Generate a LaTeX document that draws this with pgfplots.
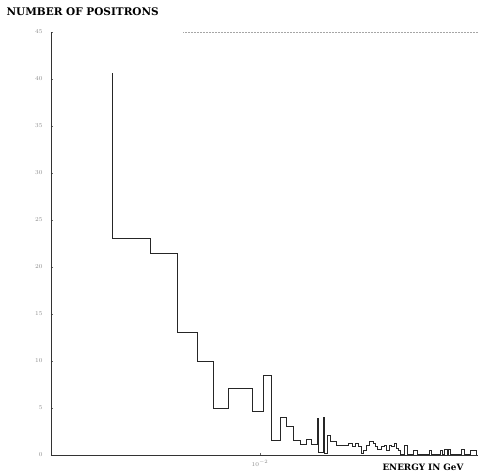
\documentclass[border=0pt]{standalone}
\usepackage{pgfplots}
\pgfplotsset{compat=1.18}
\usepackage{fontspec}
\setmainfont{DejaVu Serif}
\begin{document}
\begin{tikzpicture}
\path[use as bounding box] (0,0) rectangle (478pt,473pt);
\begin{axis}[
  at={(51pt,18pt)}, anchor=south west,
  scale only axis, width=427pt, height=423pt,
  xmin=0, xmax=427, ymin=0, ymax=45,
  axis lines*=left,
  axis line style={black!80, line width=0.6pt},
  ytick={0,5,...,45},
  yticklabel style={font=\fontsize{6}{7}\selectfont, text=black!45, xshift=-5pt},
  xtick={209}, xticklabels={$10^{-2}$},
  xticklabel style={font=\fontsize{6}{7}\selectfont, text=black!45, yshift=-2pt},
  tick style={black!60, line width=0.4pt},
  major tick length=2pt,
  tick align=inside,
  clip=false,
]
\draw[black!35, densely dotted, line width=0.5pt] (rel axis cs:0.31,1) -- (rel axis cs:1,1);
\addplot[const plot mark left, black!85, line width=0.7pt] coordinates {
(61,40.6) (61.8,23.1) (99,21.5) (126,13.1) (146,10.0) (162,5.0) (177,7.1)
(201,4.6) (212,8.5) (220,1.6) (229,4.0) (235,3.0) (242,1.6) (249,1.1)
(255,1.7) (260,1.1) (266,3.9) (267.5,0.3) (272,4.0) (273,0.2) (276,2.1)
(279,1.5) (285.7,1.0) (297.3,1.2) (301.3,0.9) (304,1.2) (307.3,0.9)
(310.7,0.2) (312.3,0.5) (315.7,1.06) (318.3,1.5) (322.3,1.2) (324,0.9)
(326.3,0.6) (330.7,0.9) (333.3,1.06) (335.7,0.5) (338.3,1.06) (340.7,0.9)
(343,1.2) (345,0.7) (347.3,0.5) (349,0.1) (353.3,1.06) (356.3,0.1)
(362.3,0.5) (366.7,0.1) (378.3,0.5) (380,0.1) (389.7,0.5) (391.3,0.1)
(393,0.6) (396.3,0.1) (397.3,0.6) (399,0.1) (410.7,0.6) (413,0.1)
(419,0.5) (425.7,0.5) (425.7,0)
};
\end{axis}
\node[anchor=west, font=\fontsize{10.5}{12}\selectfont\bfseries] at (3pt,461pt) {NUMBER OF POSITRONS};
\node[anchor=west, font=\fontsize{8.8}{10}\selectfont\bfseries] at (379pt,6pt) {ENERGY IN GeV};
\end{tikzpicture}
\end{document}
